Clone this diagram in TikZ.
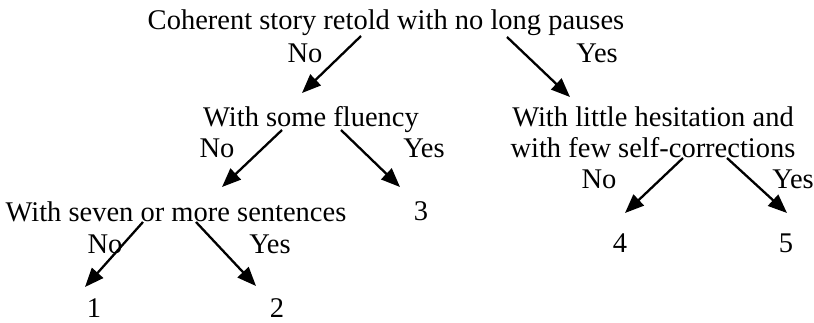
\documentclass[tikz,border=0pt]{standalone}
\usepackage{fontspec}
\setmainfont{Liberation Serif}
\usetikzlibrary{arrows.meta}
\usetikzlibrary{positioning}
\tikzstyle{arrow} = [line width=2.3bp, -{Triangle[length=19bp,width=15bp]}]
\tikzstyle{txt} = [inner sep=0pt, anchor=base]
\tikzstyle{question} = [inner sep=0pt, anchor=base, align=center]
\begin{document}
\begin{tikzpicture}[x=1bp, y=-1bp, font=\fontsize{28.5bp}{31bp}\selectfont]
\useasboundingbox (0,0) rectangle (814,322);

% questions
\node (story) [question] at (386,29) {Coherent story retold with no long pauses};
\node (fluency) [question] at (311,126) {With some fluency};
\node (hesitation) [question] at (653,157) {With little hesitation and\\ with few self-corrections};
\node (sentences) [question] at (176,221) {With seven or more sentences};

% scores
\node (score-1) [txt] at (94,317) {1};
\node (score-2) [txt] at (277,317) {2};
\node (score-3) [txt] at (421,220) {3};
\node (score-4) [txt] at (620,252) {4};
\node (score-5) [txt] at (786,252) {5};

% answers
\node (story-no) [txt] at (305,62) {No};
\node (story-yes) [txt] at (597,62) {Yes};
\node (fluency-no) [txt] at (217,157) {No};
\node (fluency-yes) [txt] at (424,157) {Yes};
\node (hesitation-no) [txt] at (599,188) {No};
\node (hesitation-yes) [txt] at (793,188) {Yes};
\node (sentences-no) [txt] at (105,253) {No};
\node (sentences-yes) [txt] at (270,253) {Yes};

\draw [arrow] ([shift={(-25,7)}]story.base) -- ([shift={(-9,-33)}]fluency.base);
\draw [arrow] ([shift={(121,8)}]story.base) -- ([shift={(-83,-60)}]hesitation.base);
\draw [arrow] ([shift={(-29,4)}]fluency.base) -- ([shift={(46,-34)}]sentences.base);
\draw [arrow] ([shift={(30,4)}]fluency.base) -- ([shift={(-21,-33)}]score-3.base);
\draw [arrow] ([shift={(-33,1)}]sentences.base) -- ([shift={(-9,-30)}]score-1.base);
\draw [arrow] ([shift={(20,1)}]sentences.base) -- ([shift={(-21,-31)}]score-2.base);
\draw [arrow] ([shift={(30,1)}]hesitation.base) -- ([shift={(5,-39)}]score-4.base);
\draw [arrow] ([shift={(74,1)}]hesitation.base) -- ([shift={(1,-39)}]score-5.base);
\end{tikzpicture}
\end{document}
